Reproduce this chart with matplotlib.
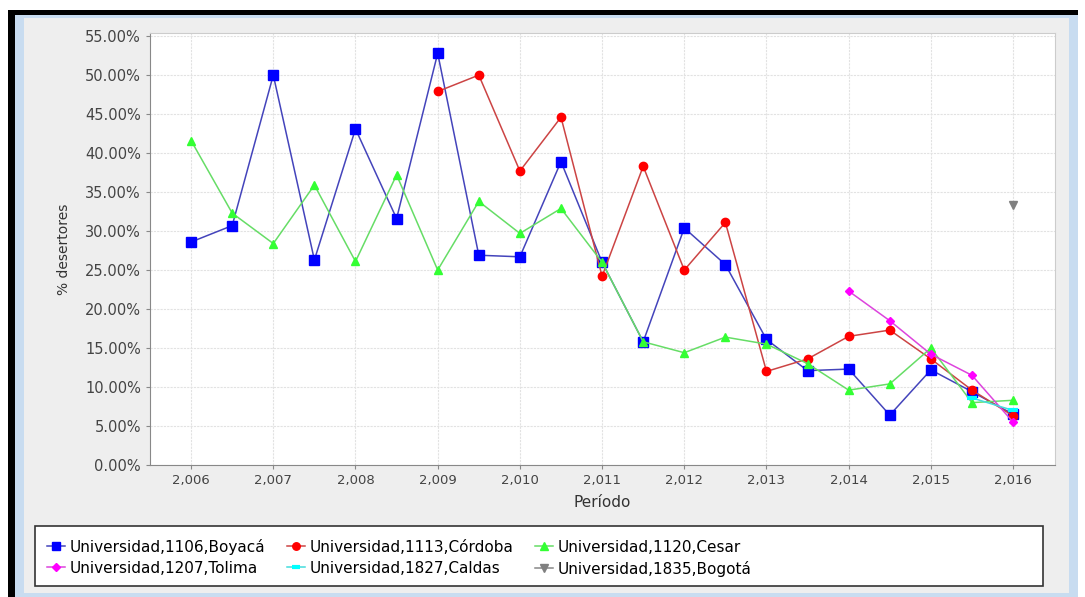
import matplotlib
matplotlib.use("Agg")
import matplotlib.pyplot as plt
from matplotlib.patches import Rectangle
from matplotlib.ticker import FuncFormatter, MultipleLocator
import numpy as np

# periods: half-year steps 2006 .. 2016
periods = [2006 + 0.5 * i for i in range(21)]

boyaca = [28.6, 30.7, 50.0, 26.3, 43.1, 31.6, 52.8, 26.9, 26.7, 38.9, 26.0,
          15.8, 30.4, 25.7, 16.1, 12.1, 12.3, 6.4, 12.2, 9.4, 6.5]
cordoba = [None] * 6 + [47.9, 50.0, 37.7, 44.6, 24.2, 38.3, 25.0, 31.1, 12.0,
                        13.6, 16.5, 17.3, 13.6, 9.6, 6.3]
cesar = [41.6, 32.3, 28.4, 35.9, 26.1, 37.2, 25.0, 33.8, 29.7, 32.9, 26.0,
         15.8, 14.4, 16.4, 15.5, 13.0, 9.6, 10.4, 15.0, 8.0, 8.3]
tolima = [None] * 16 + [22.3, 18.5, 14.2, 11.5, 5.5]
caldas = [None] * 19 + [8.6, 7.0]
bogota = [None] * 20 + [33.4]

labels = ["Universidad,1106,Boyacá", "Universidad,1113,Córdoba",
          "Universidad,1120,Cesar", "Universidad,1207,Tolima",
          "Universidad,1827,Caldas", "Universidad,1835,Bogotá"]

STYLES = [
    dict(color="#4444bb", marker="s", mfc="#0000ff", mec="#0000ff", ms=6.5),
    dict(color="#cc4444", marker="o", mfc="#ff0000", mec="#ff0000", ms=6),
    dict(color="#66dd66", marker="^", mfc="#33ff33", mec="#33ff33", ms=6),
    dict(color="#dd44dd", marker="D", mfc="#ff00ff", mec="#ff00ff", ms=4.5),
    dict(color="#44dddd", marker="_", mfc="#00ffff", mec="#00ffff", ms=7, mew=3),
    dict(color="#888888", marker="v", mfc="#808080", mec="#808080", ms=6),
]


def to_arr(vals):
    return np.array([np.nan if v is None else v for v in vals], dtype=float)


fig = plt.figure(figsize=(10.85, 5.97), dpi=100)
fig.patch.set_facecolor("white")

W, H = 1085, 597
def fx(px): return px / W
def fy(py): return 1 - py / H

def fig_rect(x0, y0, x1, y1, **kw):
    # pixel box (top-left origin) -> figure rectangle
    fig.patches.append(Rectangle((fx(x0), fy(y1)), (x1 - x0) / W, (y1 - y0) / H,
                                 transform=fig.transFigure, zorder=0, **kw))

# outer frame + grey panel
fig_rect(8, 10, 1078, 597, facecolor="black", edgecolor="none")
fig_rect(15, 15, 1078, 597, facecolor="#c8dcf0", edgecolor="none")
fig_rect(24, 18, 1069, 593, facecolor="#eeeeee", edgecolor="none")
# legend box
fig_rect(35, 526, 1043, 586, facecolor="white", edgecolor="#333333", lw=1.2)

ax = fig.add_axes([fx(150), fy(465), fx(905), 432 / H])
ax.set_zorder(2)
ax.set_facecolor("white")

series = [boyaca, cordoba, cesar, tolima, caldas, bogota]
handles = []
for vals, lab, st in zip(series, labels, STYLES):
    st = dict(st)
    mew = st.pop("mew", 1.0)
    h, = ax.plot(periods, to_arr(vals), lw=1.1, mew=mew, label=lab, **st)
    handles.append(h)

ax.set_xlim(2005.5, 2016.51)
ax.set_ylim(0, 55.4)
ax.xaxis.set_major_locator(MultipleLocator(1))
ax.yaxis.set_major_locator(MultipleLocator(5))
ax.xaxis.set_major_formatter(FuncFormatter(lambda v, p: f"{int(round(v)):,}"))
ax.yaxis.set_major_formatter(FuncFormatter(lambda v, p: f"{v:.2f}%"))
ax.tick_params(labelcolor="#444444", color="#888888", length=3, width=0.8)
ax.tick_params(axis="x", labelsize=9.5)
ax.tick_params(axis="y", labelsize=10.5)
ax.grid(color="#e2e2e2", lw=0.8, ls=(0, (2, 1)))
ax.set_axisbelow(True)
for side in ["top", "right"]:
    ax.spines[side].set_color("#cccccc")
for side in ["left", "bottom"]:
    ax.spines[side].set_color("#888888")

ax.set_xlabel("Período", fontsize=11, color="#333333", labelpad=6)
ax.set_ylabel("% desertores", fontsize=10, color="#333333", labelpad=10)

# legend: row-wise order -> reorder for column filling
order = [0, 3, 1, 4, 2, 5]
leg = fig.legend([handles[i] for i in order], [labels[i] for i in order],
                 ncol=3, loc="upper left", bbox_to_anchor=(fx(36), fy(528)),
                 fontsize=11, frameon=False, handlelength=1.2,
                 handletextpad=0.3, columnspacing=1.4, borderpad=0.2,
                 labelspacing=0.4, markerscale=0.9)
leg.set_zorder(3)

fig.savefig("out.png", dpi=100)
